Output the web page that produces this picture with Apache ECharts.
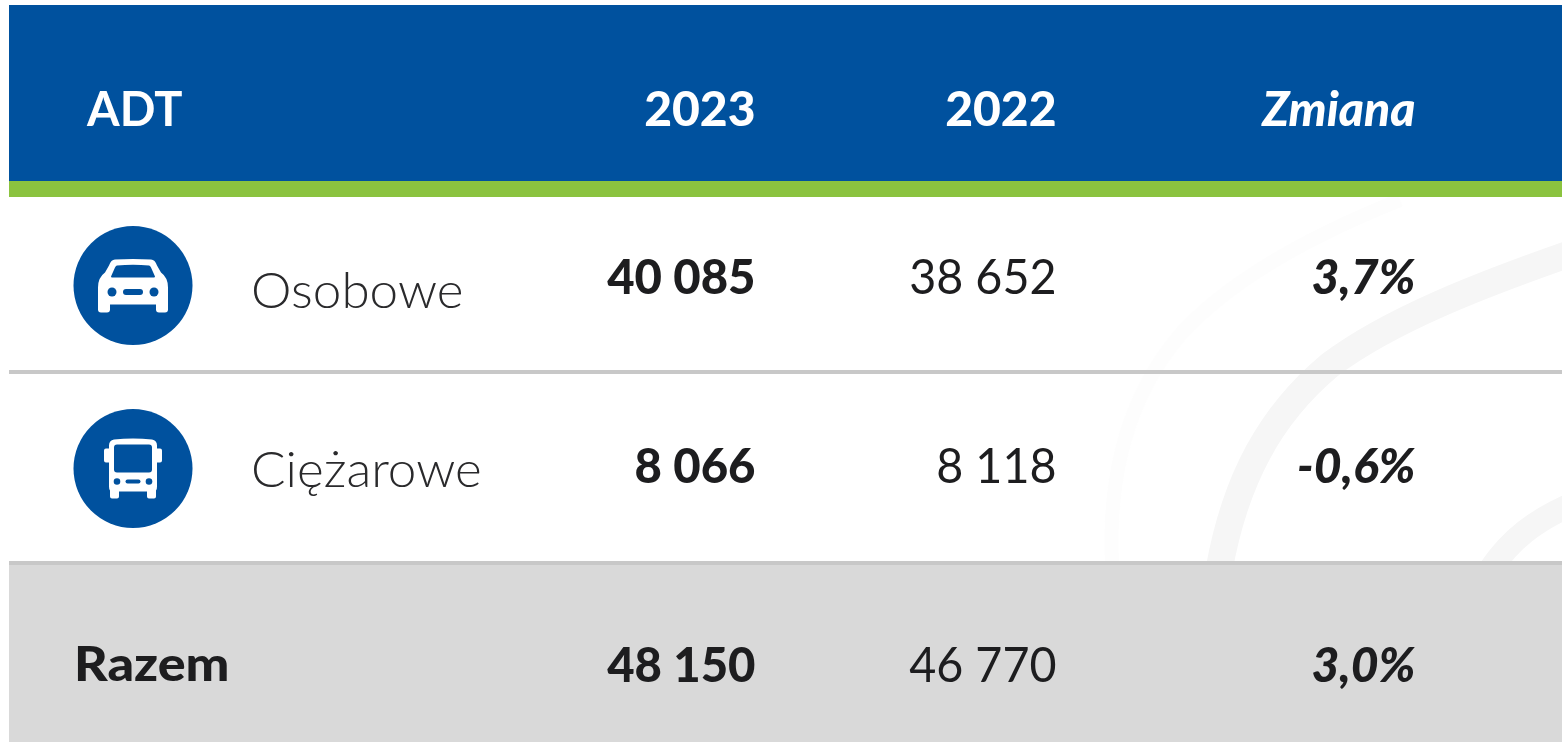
<!DOCTYPE html>
<html><head><meta charset="utf-8">
<style>html,body{margin:0;padding:0;background:#fff}#c{width:1562px;height:742px}</style>
<script src="https://cdn.jsdelivr.net/npm/echarts@6/dist/echarts.min.js"></script>
</head><body><div id="c"></div>
<script>
var title = 'ADT';
var columnHeaders = ['2023', '2022', 'Zmiana'];
var categories = ['Osobowe', 'Ciężarowe', 'Razem'];
var values2023 = [40085, 8066, 48150];
var values2022 = [38652, 8118, 46770];
var changes = [3.7, -0.6, 3.0];

// layout, in page pixels
var W = 1562, H = 742, L = 9;
var rowY = [279, 468, 667], labelY = [292, 471, 666], iconY = [285.5, 468.5];
var colRight = [755.5, 1056.5, 1415.5];
var BLUE = '#00519e', INK = '#1d1d1f';
var FONT = 'Lato';

function thousands(v) { return String(v).replace(/\B(?=(\d{3})+$)/g, ' '); }
function pct(v) { return v.toFixed(1).replace('.', ',') + '%'; }

var CAR = 'M-18 -26 Q0 -27 18 -26 Q22 -26 24 -20 L28 -13 Q35 -8 35 2 L35 24 Q35 27 32 27 L26 27 Q23 27 23 24 L23 19 L-23 19 L-23 24 Q-23 27 -26 27 L-32 27 Q-35 27 -35 24 L-35 2 Q-35 -8 -28 -13 L-24 -20 Q-22 -26 -18 -26 Z';
var WIND = 'M-16 -20 Q-17 -20 -18 -18 L-22 -9 Q-22 -8 -21 -8 L21 -8 Q22 -8 22 -9 L18 -18 Q17 -20 16 -20 Q0 -21.5 -16 -20 Z';
var BUS = 'M-19 -29 Q0 -31 19 -29 Q24 -28 24 -23 L24 -20 L27 -20 Q29 -20 29 -18 L29 -8 Q29 -6 27 -6 L24 -6 L24 18 Q24 21 23 22 L23 28 Q23 30 21 30 L16 30 Q14 30 14 28 L14 23 L-14 23 L-14 28 Q-14 30 -16 30 L-21 30 Q-23 30 -23 28 L-23 22 Q-24 21 -24 18 L-24 -6 L-27 -6 Q-29 -6 -29 -8 L-29 -18 Q-29 -20 -27 -20 L-24 -20 L-24 -23 Q-24 -28 -19 -29 Z';

function txt(x, y, s, align, size, weight, color, italic, sx) {
  return { type: 'text', x: x, y: y, scaleX: sx || 1, silent: true, style: {
    text: s, textAlign: align, textVerticalAlign: 'middle', fill: color,
    font: (italic ? 'italic ' : '') + weight + ' ' + size + 'px ' + FONT } };
}
function iconGroup(api, row) {
  var p = api.coord([133, iconY[row]]);
  var kids = [{ type: 'circle', shape: { cx: 0, cy: 0, r: 59.5 }, style: { fill: BLUE } }];
  if (row === 0) {
    kids.push({ type: 'path', shape: { pathData: CAR }, style: { fill: '#fff' } });
    kids.push({ type: 'path', shape: { pathData: WIND }, style: { fill: BLUE } });
    kids.push({ type: 'circle', shape: { cx: -21, cy: 6.5, r: 4.5 }, style: { fill: BLUE } });
    kids.push({ type: 'circle', shape: { cx: 21, cy: 6.5, r: 4.5 }, style: { fill: BLUE } });
    kids.push({ type: 'rect', shape: { x: -10, y: 3.5, width: 20, height: 6, r: 3 }, style: { fill: BLUE } });
  } else {
    kids.push({ type: 'path', shape: { pathData: BUS }, style: { fill: '#fff' } });
    kids.push({ type: 'rect', shape: { x: -19, y: -24, width: 38, height: 28, r: 3 }, style: { fill: BLUE } });
    kids.push({ type: 'circle', shape: { cx: -16, cy: 13, r: 3.3 }, style: { fill: BLUE } });
    kids.push({ type: 'circle', shape: { cx: 16, cy: 13, r: 3.3 }, style: { fill: BLUE } });
    kids.push({ type: 'rect', shape: { x: -7.5, y: 11, width: 15, height: 4, r: 2 }, style: { fill: BLUE } });
  }
  return { type: 'group', x: p[0], y: p[1], children: kids };
}

var rows = categories.map(function (c, i) { return [i]; });

function backdrop() {
  var s = function (p, c, w) { return { type: 'path', shape: { pathData: p }, style: { fill: 'none', stroke: c, lineWidth: w } }; };
  var r = function (y, h, c) { return { type: 'rect', shape: { x: L, y: y, width: W - L, height: h }, style: { fill: c } }; };
  return { type: 'group', children: [
    s('M1112 565 C1108 480 1125 400 1180 335 C1225 285 1300 240 1400 200', '#fdfdfd', 14),
    s('M1219 570 C1235 480 1270 415 1330 365 C1390 320 1480 285 1575 252', '#f6f6f6', 27),
    s('M1490 570 C1510 540 1535 520 1575 503', '#f6f6f6', 24),
    r(5, 176, BLUE), r(181, 16, '#8bc33f'), r(370, 4, '#c8c8c8'),
    r(561, 181, '#d9d9d9'), r(561, 4, '#c8c8c8')
  ] };
}

var option = {
  animation: false,
  backgroundColor: '#fff',
  grid: { left: 0, right: 0, top: 0, bottom: 0 },
  xAxis: { type: 'value', min: 0, max: W, show: false },
  yAxis: { type: 'value', min: 0, max: H, inverse: true, show: false },
  series: [
    { type: 'custom', coordinateSystem: 'cartesian2d', silent: true, clip: false, z: 1, data: [[0]], renderItem: backdrop },
    { type: 'custom', coordinateSystem: 'cartesian2d', silent: true, clip: false, z: 5, data: [[0]],
      renderItem: function (params, api) {
        var y = api.coord([0, 108])[1];
        var kids = [txt(api.coord([87, 0])[0], y + 3, title, 'left', 47, 700, '#fff')];
        columnHeaders.forEach(function (h, j) {
          kids.push(txt(api.coord([colRight[j], 0])[0], y + 3, h, 'right', 48, 900, '#fff', j === 2));
        });
        return { type: 'group', children: kids };
      } },
    { type: 'custom', coordinateSystem: 'cartesian2d', silent: true, clip: false, z: 5, data: rows,
      renderItem: function (params, api) {
        var i = api.value(0), y = api.coord([0, rowY[i]])[1], kids = [];
        if (i < 2) {
          kids.push(iconGroup(api, i));
          kids.push(txt(api.coord([251, 0])[0], api.coord([0, labelY[i]])[1], categories[i], 'left', 49, 300, '#2a2a2c', false, 1.045));
        } else {
          kids.push(txt(api.coord([74, 0])[0], api.coord([0, labelY[i]])[1], categories[i], 'left', 48, 900, INK, false, 1.085));
        }
        kids.push(txt(api.coord([colRight[0], 0])[0], y, thousands(values2023[i]), 'right', 48, 900, INK, false, 0.985));
        kids.push(txt(api.coord([colRight[1], 0])[0], y, thousands(values2022[i]), 'right', 48, 400, INK, false, 0.972));
        kids.push(txt(api.coord([colRight[2], 0])[0], y, pct(changes[i]), 'right', 48, 900, INK, true));
        return { type: 'group', children: kids };
      } }
  ]
};
var chart = echarts.init(document.getElementById('c'), null, { renderer: 'canvas', width: W, height: H });
chart.setOption(option);
</script></body></html>
